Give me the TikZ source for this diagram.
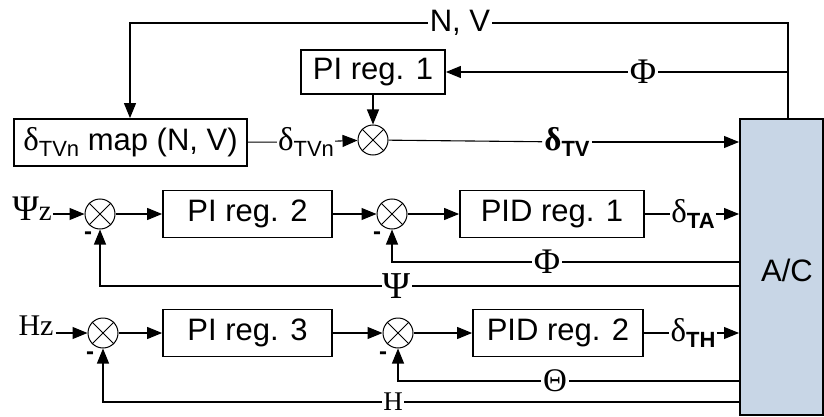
\documentclass[tikz,border=0pt]{standalone}
\usepackage{fontspec}
\setmainfont{Liberation Sans}
\newfontfamily\serifgr{Liberation Serif}
\usetikzlibrary{arrows.meta}
\newcommand\dl{{\serifgr\fontsize{33}{34}\selectfont δ}}
\newcommand\bdl{{\serifgr\bfseries\fontsize{33}{34}\selectfont δ}}
\newcommand\subs[1]{\raisebox{-0.35ex}{\fontsize{22}{22}\selectfont #1}}
\newcommand\bsubs[1]{\raisebox{-0.35ex}{\fontsize{22}{22}\selectfont\bfseries #1}}
\begin{document}
\begin{tikzpicture}[x=1pt,y=-1pt,
  blk/.style={draw,line width=1.8pt,inner sep=0pt,font=\fontsize{31}{34}\selectfont},
  sumj/.style={draw,circle,line width=1pt,minimum size=30pt,inner sep=0pt},
  lbl/.style={inner sep=2pt,font=\serifgr\fontsize{36}{36}\selectfont},
  sl/.style={inner sep=2pt,font=\fontsize{31}{34}\selectfont},
  minus/.style={inner sep=0pt,font=\fontsize{24}{24}\selectfont\bfseries},
  con/.style={line width=1.1pt},
  arr/.style={con,-{Triangle[length=15pt,width=12pt]}}
]
\useasboundingbox (0,0) rectangle (824,417);
% blocks
\node[blk,minimum width=233pt,minimum height=47pt] (map) at (130.5,142.5) {\dl\subs{TVn} map (N, V)};
\node[blk,minimum width=144pt,minimum height=44pt] (pi1) at (373,72) {PI reg. 1};
\node[blk,minimum width=169pt,minimum height=47pt] (pi2) at (247.5,214) {PI reg. 2};
\node[blk,minimum width=184pt,minimum height=47pt] (pid1) at (552,214) {PID reg. 1};
\node[blk,minimum width=169pt,minimum height=47pt] (pi3) at (247.5,333) {PI reg. 3};
\node[blk,minimum width=170pt,minimum height=47pt] (pid2) at (558,333) {PID reg. 2};
\node[draw,line width=1.8pt,fill={rgb,255:red,200;green,214;blue,230},minimum width=83pt,minimum height=296pt,inner sep=0pt,anchor=north west] (ac) at (739,118) {};
\node[font=\fontsize{31}{34}\selectfont] (aclbl) at (787,270) {A/C};
% summing junctions
\foreach \n/\x/\y in {s0/373/140,s1/100/214,s2/392/214,s3/103/333,s4/398/333}{
  \node[sumj] (\n) at (\x,\y) {};
  \draw[line width=1pt] (\n.north west) -- (\n.south east) (\n.north east) -- (\n.south west);
}
% minus signs
\node[minus] (m1) at (88,236) {-};
\node[minus] (m2) at (377,236) {-};
\node[minus] (m3) at (90,356) {-};
\node[minus] (m4) at (383,356) {-};
% labels
\node[sl] (nv) at (460,23) {N, V};
\node[lbl] (phi1) at (643,72) {Φ};
\node[sl,inner sep=1pt] (dtvn) at (306,142) {\dl\subs{TVn}};
\node[sl] (dtv) at (567,142) {\bdl\bsubs{TV}};
\node[lbl,inner sep=1pt] (psiz) at (32,209) {{\fontsize{36}{36}\selectfont Ψ}{\fontsize{29}{30}\selectfont z}};
\node[lbl,font=\serifgr\fontsize{30}{30}\selectfont] (hz) at (36,326) {Hz};
\node[sl,inner sep=1pt] (dta) at (693,214) {\dl\bsubs{TA}};
\node[sl,inner sep=1pt] (dth) at (693,333) {\dl\bsubs{TH}};
\node[lbl] (phi2) at (547,262) {Φ};
\node[lbl,font=\serifgr\fontsize{38}{38}\selectfont,inner sep=1pt] (psi) at (397,286) {Ψ};
\node[lbl,font=\serifgr\fontsize{33}{33}\selectfont] (theta) at (555,381) {Θ};
\node[lbl,font=\serifgr\fontsize{27}{28}\selectfont,inner sep=1pt] (hh) at (393,402) {H};
% corner coordinates
\coordinate (tr) at (788,23);
\coordinate (tl) at (130,23);
\coordinate (phij) at (788,72);
% top loop
\draw[con] (ac.north -| tr) -- (tr) -- (nv);
\draw[arr] (nv) -- (tl) -- (map.north -| tl);
\draw[con] (phij) -- (phi1);
\draw[arr] (phi1) -- (pi1);
\draw[arr] (pi1) -- (s0);
\draw[con] (map) -- (dtvn);
\draw[arr] (dtvn) -- (s0);
\draw[con] (s0) -- (dtv);
\draw[arr] (dtv) -- (dtv -| ac.west);
% row 2
\draw[arr] (psiz.east |- s1) -- (s1);
\draw[arr] (s1) -- (pi2);
\draw[arr] (pi2) -- (s2);
\draw[arr] (s2) -- (pid1);
\draw[con] (pid1) -- (dta);
\draw[arr] (dta) -- (dta -| ac.west);
\draw[con] (ac.west |- phi2) -- (phi2);
\draw[arr] (phi2) -- (phi2 -| s2) -- (s2);
\draw[con] (ac.west |- psi) -- (psi);
\draw[arr] (psi) -- (psi -| s1) -- (s1);
% row 3
\draw[arr] (hz.east |- s3) -- (s3);
\draw[arr] (s3) -- (pi3);
\draw[arr] (pi3) -- (s4);
\draw[arr] (s4) -- (pid2);
\draw[con] (pid2) -- (dth);
\draw[arr] (dth) -- (dth -| ac.west);
\draw[con] (ac.west |- theta) -- (theta);
\draw[arr] (theta) -- (theta -| s4) -- (s4);
\draw[con] (ac.west |- hh) -- (hh);
\draw[arr] (hh) -- (hh -| s3) -- (s3);
\end{tikzpicture}
\end{document}
